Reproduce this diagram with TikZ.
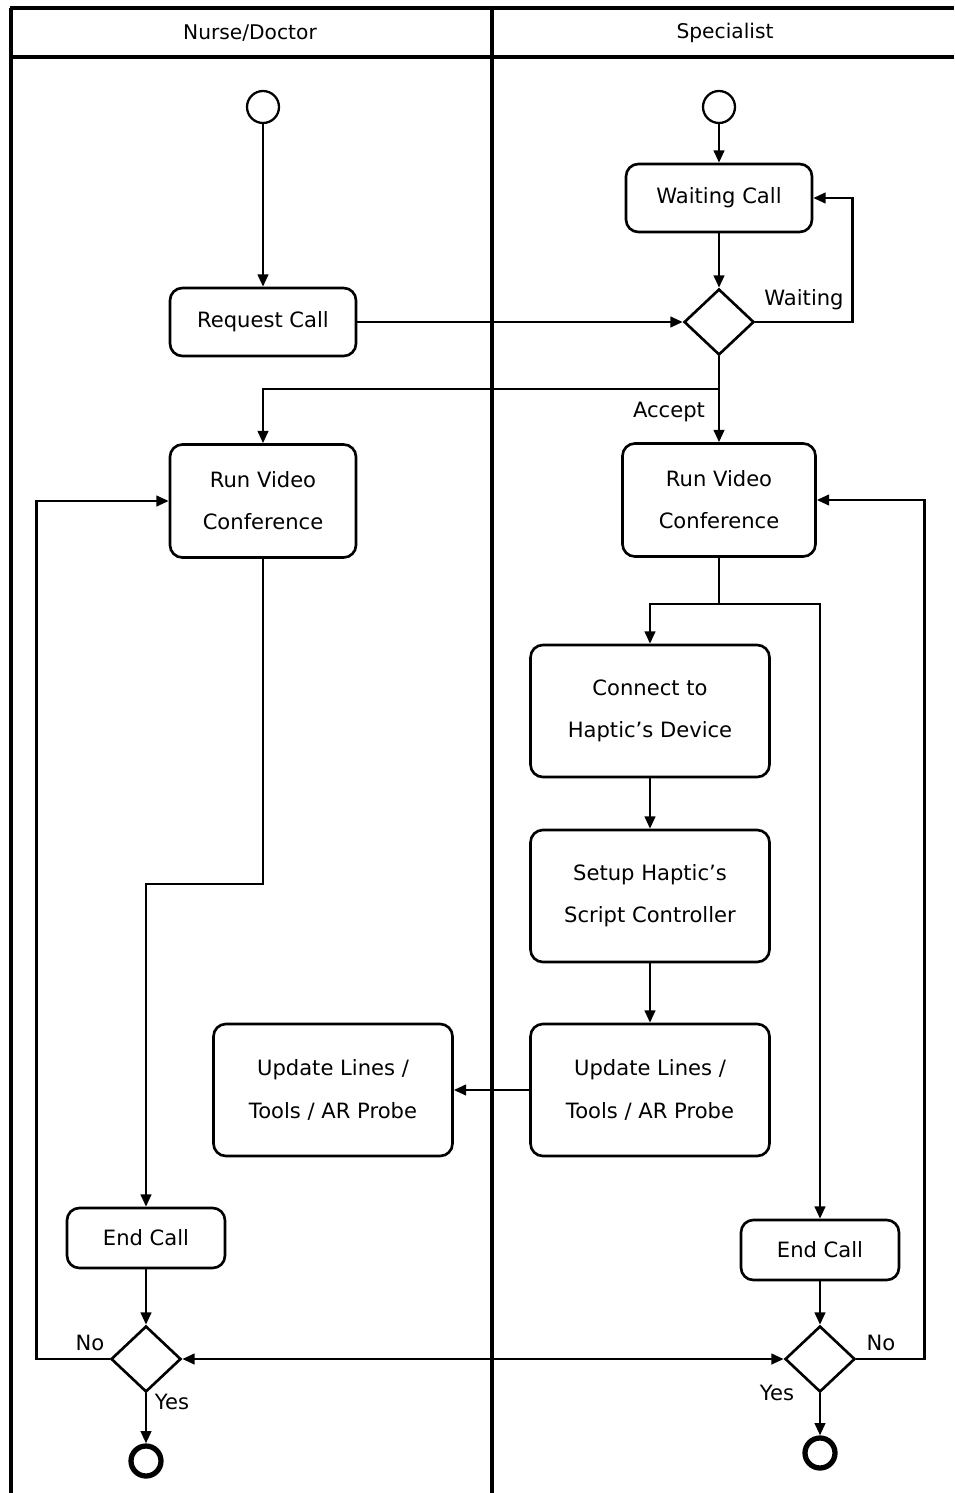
\documentclass[tikz,border=0pt]{standalone}
\usepackage{fontspec}
\setmainfont{DejaVu Sans}
\usepackage{tikz}
\usetikzlibrary{positioning,shapes.geometric,arrows.meta,calc}

\tikzset{
  lane/.style={line width=2pt},
  head/.style={font=\fontsize{11.5}{13}\selectfont},
  act/.style={draw, rounded corners=7pt, line width=1.5pt, align=center, inner sep=0pt,
    font=\fontsize{12}{24}\selectfont},
  actsmall/.style={act, minimum width=3.72cm, minimum height=1.36cm},
  actvideo/.style={act, minimum width=3.72cm, minimum height=2.26cm},
  actbig/.style={act, minimum width=4.78cm, minimum height=2.64cm},
  actend/.style={act, minimum width=3.16cm, minimum height=1.2cm},
  decide/.style={draw, diamond, line width=1.5pt, minimum width=1.4cm, minimum height=1.32cm, inner sep=0pt},
  startnode/.style={draw, circle, line width=1.3pt, minimum size=0.64cm, inner sep=0pt},
  stopnode/.style={draw, circle, line width=3pt, minimum size=0.6cm, inner sep=0pt},
  flow/.style={line width=1.4pt, -{Triangle[length=7pt,width=6pt]}},
  lbl/.style={font=\fontsize{12}{14}\selectfont}
}

\begin{document}
\begin{tikzpicture}[x=0.02cm, y=-0.02cm]
  \useasboundingbox (0,0) rectangle (954,1493);
  % swimlanes
  \draw[lane] (10,8) -- (954,8);
  \draw[lane, line width=2.6pt] (10,57) -- (954,57);
  \draw[lane] (11,8) -- (11,1493);
  \draw[lane] (492,8) -- (492,1493);
  \node[head] (hnurse) at (250,33) {Nurse/Doctor};
  \node[head] (hspec) at (725,33) {Specialist};

  % nurse / doctor
  \node[startnode] (startn) at (263,107) {};
  \node[actsmall] (request) at (263,322) {Request Call};
  \node[actvideo] (videon) at (263,501) {Run Video\\Conference};
  \node[actbig] (updaten) at (333,1090) {Update Lines /\\Tools / AR Probe};
  \node[actend] (endn) at (146,1238) {End Call};
  \node[decide] (decn) at (146,1359) {};
  \node[stopnode] (stopn) at (146,1461) {};

  % specialist
  \node[startnode] (starts) at (719,107) {};
  \node[actsmall] (waiting) at (719,198) {Waiting Call};
  \node[decide] (decwait) at (719,322) {};
  \node[actvideo, minimum width=3.86cm] (videos) at (719,500) {Run Video\\Conference};
  \node[actbig] (connect) at (650,711) {Connect to\\Haptic’s Device};
  \node[actbig] (setup) at (650,896) {Setup Haptic’s\\Script Controller};
  \node[actbig] (updates) at (650,1090) {Update Lines /\\Tools / AR Probe};
  \node[actend] (ends) at (820,1250) {End Call};
  \node[decide] (decs) at (820,1359) {};
  \node[stopnode] (stops) at (820,1453) {};

  % labels
  \node[lbl] (lwait) at (804,300) {Waiting};
  \node[lbl] (laccept) at (669,412) {Accept};
  \node[lbl] (lnon) at (90,1343) {No};
  \node[lbl] (lyesn) at (172,1402) {Yes};
  \node[lbl] (lnos) at (881,1343) {No};
  \node[lbl] (lyess) at (777,1393) {Yes};

  % connectors
  \draw[flow] (startn) -- (request);
  \draw[flow] (request) -- (decwait);
  \draw[flow] (starts) -- (waiting);
  \draw[flow] (waiting) -- (decwait);
  \draw[flow] (decwait.east) -- ++(97,0) |- (waiting.east);
  \draw[flow] (decwait.south) -- (videos.north);
  \draw[flow] (decwait.south |- 0,389) -| (videon.north);
  \draw[flow] (videon.south) -- ++(0,325) -| (endn.north);
  \draw[flow] (videos.south) -- ++(0,46) -| (connect.north);
  \draw[flow] (videos.south) -- ++(0,46) -| (ends.north);
  \draw[flow] (connect) -- (setup);
  \draw[flow] (setup) -- (updates);
  \draw[flow] (updates) -- (updaten);
  \draw[flow] (endn) -- (decn);
  \draw[flow] (ends) -- (decs);
  \draw[flow] (decn) -- (stopn);
  \draw[flow] (decs) -- (stops);
  \draw[flow] (decn.west) -- ++(-73,0) |- (videon.west);
  \draw[flow] (decs.east) -- ++(68,0) |- (videos.east);
  \draw[flow, {Triangle[length=7pt,width=6pt]}-{Triangle[length=7pt,width=6pt]}] (decn.east) -- (decs.west);
\end{tikzpicture}
\end{document}
